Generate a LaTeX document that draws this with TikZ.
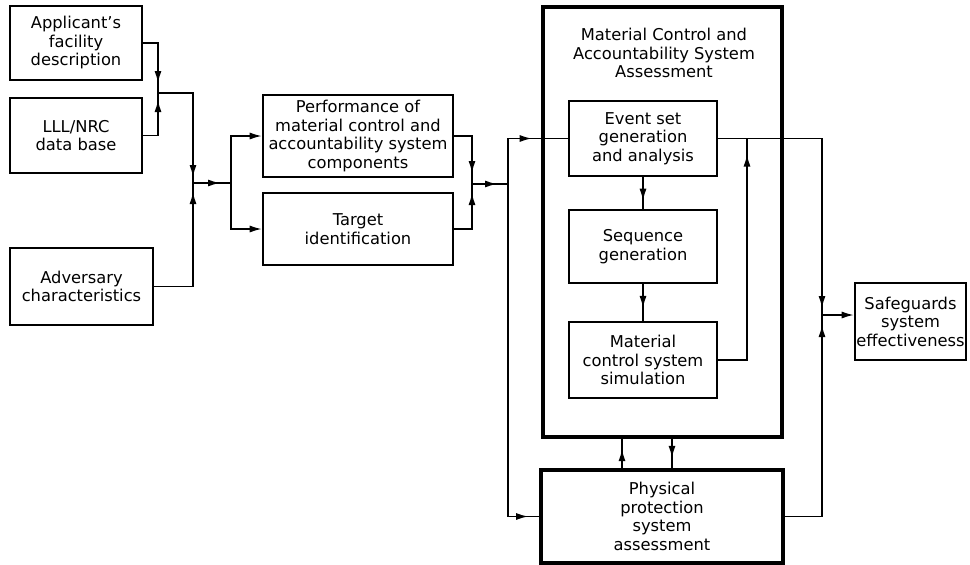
\documentclass[tikz,border=0pt]{standalone}
\usepackage{fontspec}
\setmainfont{DejaVu Sans}
\usetikzlibrary{arrows.meta,decorations.markings,calc}
\begin{document}
\begin{tikzpicture}[x=1pt,y=-1pt,
  box/.style={draw, line width=2.6pt, align=center, inner sep=0pt, font=\fontsize{16.3}{18.5}\selectfont},
  bigbox/.style={box, line width=3.8pt},
  conn/.style={line width=1.4pt},
  endtip/.style={-{Latex[length=12pt,width=7pt]}},
  mid/.style={postaction={decorate}, decoration={markings, mark=at position #1 with {\arrow{Latex[length=12pt,width=7pt]}}}},
]
\useasboundingbox[fill=white] (0,0) rectangle (970,565);

% left inputs
\node[box, minimum width=132pt, minimum height=74pt] (app) at (76,43) {Applicant’s\\facility\\description};
\node[box, minimum width=132pt, minimum height=75pt] (lll) at (76,135.5) {LLL/NRC\\data base};
\node[box, minimum width=143pt, minimum height=77pt] (adv) at (81.5,286.5) {Adversary\\characteristics};

% middle
\node[box, minimum width=190pt, minimum height=82pt] (perf) at (358,136) {Performance of\\material control and\\accountability system\\components};
\node[box, minimum width=190pt, minimum height=72pt] (targ) at (358,229) {Target\\identification};

% MC&A assessment
\node[bigbox, minimum width=239pt, minimum height=430pt] (big) at (662.5,222) {};
\node[align=center, inner sep=0pt, font=\fontsize{16.3}{18.5}\selectfont] (title) at (664,53) {Material Control and\\Accountability System\\Assessment};
\node[box, minimum width=148pt, minimum height=75pt] (event) at (643,138.5) {Event set\\generation\\and analysis};
\node[box, minimum width=148pt, minimum height=73pt] (seq) at (643,246.5) {Sequence\\generation};
\node[box, minimum width=148pt, minimum height=76pt] (mcs) at (643,360) {Material\\control system\\simulation};

\node[bigbox, minimum width=242pt, minimum height=93pt] (phys) at (662,516.5) {Physical\\protection\\system\\assessment};
\node[box, minimum width=111pt, minimum height=77pt] (safe) at (910.5,321.5) {Safeguards\\system\\effectiveness};

% junction coordinates
\coordinate (j1) at (158,93);
\coordinate (j2) at (193,183);
\coordinate (s1) at (231,183);
\coordinate (j4) at (472,184);
\coordinate (s2) at (508,184);
\coordinate (c1) at (747,138.5);
\coordinate (j5) at (822,315);
\coordinate (b1) at (622,450);
\coordinate (b2) at (672,450);

% connectors
\draw[conn, mid=-10pt] (app.east) -| (j1);
\draw[conn, mid=-7pt] (lll.east) -| (j1);
\draw[conn, mid=-6pt] (j1) -| (j2);
\draw[conn, mid=-9pt] (adv.east) -| (j2);
\draw[conn, mid=-11pt] (j2) -- (s1);
\draw[conn, endtip] (s1) |- (perf.west);
\draw[conn, endtip] (s1) |- (targ.west);
\draw[conn, mid=-11pt] (perf.east) -| (j4);
\draw[conn, mid=-9pt] (targ.east) -| (j4);
\draw[conn, mid=-11pt] (j4) -- (s2);
\draw[conn, mid=-36pt] (s2) |- (event.west);
\draw[conn, mid=-11pt] (s2) |- (phys.west);
\draw[conn, mid=-8pt] (event.south) -- (seq.north);
\draw[conn, mid=0.65] (seq.south) -- (mcs.north);
\draw[conn, mid=-16pt] (mcs.east) -| (c1);
\draw[conn, mid=-7pt] (event.east) -| (j5);
\draw[conn, mid=-10pt] (phys.east) -| (j5);
\draw[conn, endtip] (j5) -- (safe.west |- j5);
\draw[conn, mid=0.65] (phys.north -| b1) -- (big.south -| b1);
\draw[conn, mid=0.65] (big.south -| b2) -- (phys.north -| b2);
\end{tikzpicture}
\end{document}
